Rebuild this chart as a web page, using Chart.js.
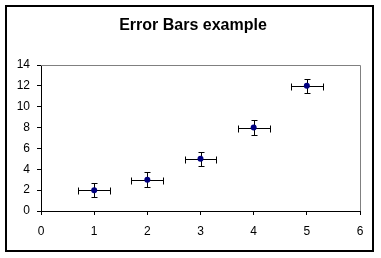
<!DOCTYPE html>
<html>
<head>
<meta charset="utf-8">
<script src="https://cdn.jsdelivr.net/npm/chart.js@4"></script>
<style>
html,body{margin:0;padding:0;background:#fff;}
#wrap{width:381px;height:258px;}
</style>
</head>
<body>
<div id="wrap"><canvas id="c" width="381" height="258"></canvas></div>
<script>
const titleText = "Error Bars example";
const xValues = [1, 2, 3, 4, 5];
const yValues = [2, 3, 5, 8, 12];
const xErrors = [0.3, 0.3, 0.3, 0.3, 0.3];
const yErrors = [0.7, 0.7, 0.7, 0.7, 0.7];
const xTicks = [0, 1, 2, 3, 4, 5, 6];
const yTicks = [0, 2, 4, 6, 8, 10, 12, 14];

const points = xValues.map((x, i) => ({x: x, y: yValues[i]}));

const decor = {
  id: 'decor',
  beforeDraw(chart) {
    const ctx = chart.ctx;
    ctx.save();
    ctx.fillStyle = '#fff';
    ctx.fillRect(0, 0, chart.width, chart.height);
    ctx.strokeStyle = '#000';
    ctx.lineWidth = 2;
    ctx.strokeRect(6, 6, 367, 245);
    ctx.fillStyle = '#000';
    ctx.font = 'bold 16px "Liberation Sans", Arial, sans-serif';
    ctx.textAlign = 'center';
    ctx.textBaseline = 'alphabetic';
    ctx.fillText(titleText, 193, 30);
    ctx.restore();
  },
  beforeDatasetsDraw(chart) {
    const ctx = chart.ctx;
    const a = chart.chartArea;
    const xs = chart.scales.x, ys = chart.scales.y;
    ctx.save();
    ctx.strokeStyle = '#808080';
    ctx.lineWidth = 1;
    ctx.beginPath();
    ctx.moveTo(a.left, a.top + 0.5);
    ctx.lineTo(a.right + 0.5, a.top + 0.5);
    ctx.lineTo(a.right + 0.5, a.bottom);
    ctx.stroke();
    ctx.strokeStyle = '#000';
    ctx.beginPath();
    points.forEach((p, i) => {
      const px = Math.round(xs.getPixelForValue(p.x)) + 0.5;
      const py = Math.round(ys.getPixelForValue(p.y)) + 0.5;
      const xl = Math.round(xs.getPixelForValue(p.x - xErrors[i])) + 0.5;
      const xr = Math.round(xs.getPixelForValue(p.x + xErrors[i])) + 0.5;
      const yt = Math.round(ys.getPixelForValue(p.y + yErrors[i])) + 0.5;
      const yb = Math.round(ys.getPixelForValue(p.y - yErrors[i])) + 0.5;
      ctx.moveTo(xl, py); ctx.lineTo(xr, py);
      ctx.moveTo(xl, py - 3); ctx.lineTo(xl, py + 4);
      ctx.moveTo(xr, py - 3); ctx.lineTo(xr, py + 4);
      ctx.moveTo(px, yt); ctx.lineTo(px, yb);
      ctx.moveTo(px - 3, yt); ctx.lineTo(px + 3, yt);
      ctx.moveTo(px - 3, yb); ctx.lineTo(px + 3, yb);
    });
    ctx.stroke();
    ctx.restore();
  }
};

new Chart(document.getElementById('c'), {
  type: 'scatter',
  data: {
    datasets: [{
      data: points,
      backgroundColor: '#000080',
      borderColor: '#000080',
      borderWidth: 0,
      pointRadius: 3,
      pointHoverRadius: 3
    }]
  },
  options: {
    responsive: false,
    animation: false,
    devicePixelRatio: 1,
    layout: {padding: {left: 0, right: 21, top: 65, bottom: 0}},
    plugins: {legend: {display: false}, title: {display: false}, tooltip: {enabled: false}},
    scales: {
      x: {
        type: 'linear', min: 0, max: 6,
        afterFit(s) { s.height = 47; },
        afterBuildTicks(s) { s.ticks = xTicks.map(v => ({value: v})); },
        border: {color: '#000', width: 1},
        grid: {drawOnChartArea: false, drawTicks: true, tickLength: 4, color: '#000'},
        ticks: {color: '#000', padding: 9, font: {family: '"Liberation Sans", Arial, sans-serif', size: 12}}
      },
      y: {
        type: 'linear', min: 0, max: 14,
        afterFit(s) { s.width = 41; },
        afterBuildTicks(s) { s.ticks = yTicks.map(v => ({value: v})); },
        border: {color: '#000', width: 1},
        grid: {drawOnChartArea: false, drawTicks: true, tickLength: 4, color: '#000'},
        ticks: {color: '#000', padding: 7, font: {family: '"Liberation Sans", Arial, sans-serif', size: 12}}
      }
    }
  },
  plugins: [decor]
});
</script>
</body>
</html>
